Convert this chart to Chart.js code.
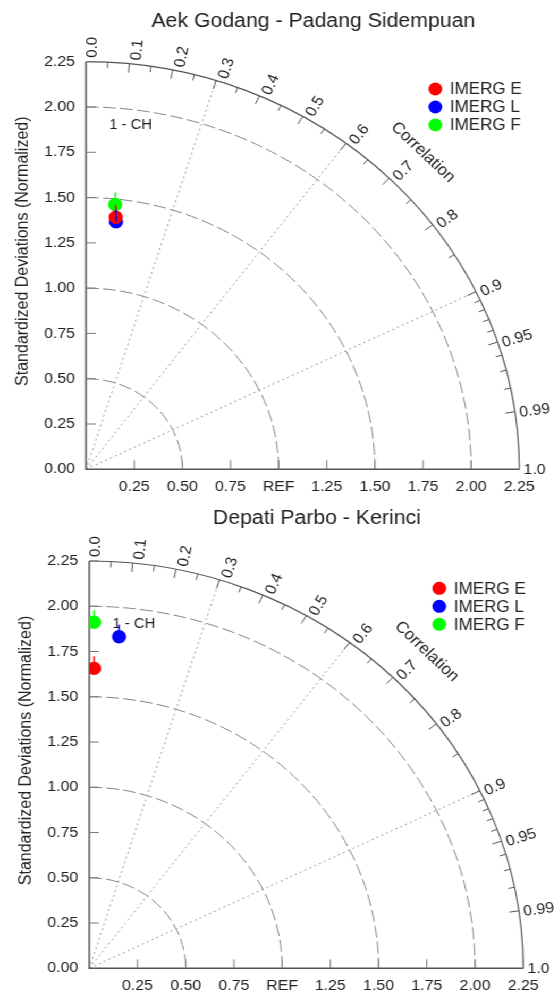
<!DOCTYPE html>
<html>
<head>
<meta charset="utf-8">
<script src="https://cdn.jsdelivr.net/npm/chart.js@4.4.0/dist/chart.umd.min.js"></script>
<style>
html, body { margin: 0; padding: 0; background: #fff; overflow: hidden; }
#wrap { width: 525px; transform: scaleX(1.062857); transform-origin: 0 0; }
canvas { display: block; }
</style>
</head>
<body>
<div id="wrap">
  <canvas id="aek" width="525" height="497"></canvas>
  <canvas id="depati" width="525" height="497"></canvas>
</div>
<script>
var FONT = '"Liberation Sans", Arial, Helvetica, sans-serif';

// models / colours
var models = ['IMERG E', 'IMERG L', 'IMERG F'];
var colors = ['#ff0000', '#0000ff', '#00ff00'];

// Aek Godang - Padang Sidempuan (normalized std dev, correlation)
var aekStd  = [1.40, 1.375, 1.47];
var aekCorr = [0.11, 0.113, 0.103];

// Depati Parbo - Kerinci
var depatiStd  = [1.657, 1.838, 1.912];
var depatiCorr = [0.015, 0.084, 0.013];

// axes
var stdTicks = [0, 0.25, 0.5, 0.75, 1.0, 1.25, 1.5, 1.75, 2.0, 2.25];
var stdArcs = [0.5, 1.0, 1.5, 2.0];
var corrLines = [0.3, 0.6, 0.9];
var corrLabels = ['0.0', '0.1', '0.2', '0.3', '0.4', '0.5', '0.6', '0.7', '0.8', '0.9', '0.95', '0.99', '1.0'];
var corrMinor = [0.05, 0.15, 0.25, 0.35, 0.45, 0.55, 0.65, 0.75, 0.85, 0.91, 0.92, 0.93, 0.94, 0.96, 0.97, 0.98];

function toXY(s, c) {
    return { x: s * c, y: s * Math.sqrt(1 - c * c) };
}

var taylorPlugin = {
    id: 'taylor',
    beforeDatasetsDraw: function(chart, args, opts) {
        var ctx = chart.ctx, xs = chart.scales.x, ys = chart.scales.y;
        var x0 = xs.getPixelForValue(0), y0 = ys.getPixelForValue(0);
        var maxR = stdTicks[stdTicks.length - 1];
        var rx = function(v) { return xs.getPixelForValue(v) - x0; };
        var ry = function(v) { return y0 - ys.getPixelForValue(v); };
        var pt = function(r, c) {
            var t = Math.acos(c);
            return [xs.getPixelForValue(r * Math.cos(t)), ys.getPixelForValue(r * Math.sin(t))];
        };
        ctx.save();

        // dashed std dev arcs
        ctx.strokeStyle = '#858585';
        ctx.lineWidth = 1;
        ctx.setLineDash([12, 4]);
        stdArcs.forEach(function(r) {
            ctx.beginPath();
            ctx.ellipse(x0, y0, rx(r), ry(r), 0, -Math.PI / 2, 0);
            ctx.stroke();
        });

        // dotted correlation rays
        ctx.strokeStyle = '#9a9a9a';
        ctx.setLineDash([2, 3]);
        corrLines.forEach(function(c) {
            var p = pt(maxR, c);
            ctx.beginPath();
            ctx.moveTo(x0, y0);
            ctx.lineTo(p[0], p[1]);
            ctx.stroke();
        });
        ctx.setLineDash([]);

        // axes and outer arc
        ctx.strokeStyle = '#555';
        ctx.lineWidth = 1.5;
        ctx.beginPath();
        ctx.moveTo(x0, ys.getPixelForValue(maxR));
        ctx.lineTo(x0, y0);
        ctx.lineTo(xs.getPixelForValue(maxR), y0);
        ctx.stroke();
        ctx.lineWidth = 1.2;
        ctx.beginPath();
        ctx.ellipse(x0, y0, rx(maxR), ry(maxR), 0, -Math.PI / 2, 0);
        ctx.stroke();

        // inward ticks on the std axes
        ctx.lineWidth = 1;
        ctx.strokeStyle = '#777';
        stdTicks.slice(1).forEach(function(v) {
            var px = xs.getPixelForValue(v), py = ys.getPixelForValue(v);
            ctx.beginPath();
            ctx.moveTo(px, y0); ctx.lineTo(px, y0 - 9);
            ctx.moveTo(x0, py); ctx.lineTo(x0 + 9, py);
            ctx.stroke();
        });

        // ticks on the correlation arc
        ctx.strokeStyle = '#555';
        var unit = rx(1);
        var tick = function(c, len) {
            if (c <= 0 || c >= 1) return;
            var a = pt(maxR, c), b = pt(maxR - len / unit, c);
            ctx.beginPath(); ctx.moveTo(a[0], a[1]); ctx.lineTo(b[0], b[1]); ctx.stroke();
        };
        corrLabels.forEach(function(l) { tick(parseFloat(l), 9); });
        corrMinor.forEach(function(c) { tick(c, 6); });

        // correlation labels
        ctx.fillStyle = '#222';
        ctx.font = '15px ' + FONT;
        ctx.textAlign = 'left';
        ctx.textBaseline = 'middle';
        corrLabels.forEach(function(l) {
            var c = parseFloat(l), t = Math.acos(c);
            var p = pt(maxR, c);
            ctx.save();
            ctx.translate(p[0], p[1]);
            ctx.rotate(-t);
            ctx.fillText(l, 4, 1 + 5 * Math.sin(t));
            ctx.restore();
        });

        // "Correlation" title along the arc
        var cp = pt(2.475, Math.cos(Math.PI / 4));
        ctx.save();
        ctx.translate(cp[0], cp[1]);
        ctx.rotate(Math.PI / 4);
        ctx.font = '16px ' + FONT;
        ctx.textAlign = 'center';
        ctx.fillText('Correlation', 0, 0);
        ctx.restore();

        // 1 - CH
        ctx.font = '14px ' + FONT;
        ctx.textAlign = 'left';
        ctx.fillText('1 - CH', xs.getPixelForValue(0.12), ys.getPixelForValue(1.90));

        ctx.restore();
    },
    afterDatasetsDraw: function(chart, args, opts) {
        var ctx = chart.ctx, area = chart.chartArea;
        ctx.save();

        // small vertical marks on the markers
        ctx.lineWidth = 1.5;
        chart.data.datasets.forEach(function(ds, i) {
            var el = chart.getDatasetMeta(i).data[0];
            ctx.strokeStyle = ds.borderColor;
            ctx.beginPath();
            ctx.moveTo(el.x, el.y);
            ctx.lineTo(el.x, el.y - 12);
            ctx.stroke();
        });

        // legend
        ctx.font = '16px ' + FONT;
        ctx.textAlign = 'left';
        ctx.textBaseline = 'middle';
        chart.data.datasets.forEach(function(ds, i) {
            var cx = area.right - 79, cy = area.top + 27.3 + i * 18;
            ctx.fillStyle = ds.backgroundColor;
            ctx.beginPath();
            ctx.arc(cx, cy, 6.5, 0, Math.PI * 2);
            ctx.fill();
            ctx.fillStyle = '#222';
            ctx.fillText(ds.label, cx + 13.7, cy + 1);
        });

        // title
        ctx.font = '20px ' + FONT;
        ctx.textAlign = 'center';
        ctx.textBaseline = 'alphabetic';
        ctx.fillText(opts.title, (area.left + area.right) / 2 + 10, 26.5);

        // y axis title
        ctx.save();
        ctx.translate(area.left - 59, area.top + 189.5);
        ctx.rotate(-Math.PI / 2);
        ctx.font = '16px ' + FONT;
        ctx.textBaseline = 'middle';
        ctx.fillText('Standardized Deviations (Normalized)', 0, 0);
        ctx.restore();

        ctx.restore();
    }
};

function makePanel(id, title, std, corr, g) {
    return new Chart(document.getElementById(id), {
        type: 'scatter',
        data: {
            datasets: models.map(function(m, i) {
                return {
                    label: m,
                    data: [toXY(std[i], corr[i])],
                    backgroundColor: colors[i],
                    borderColor: colors[i],
                    borderWidth: 0,
                    pointRadius: 6.7,
                    clip: 0
                };
            })
        },
        options: {
            responsive: false,
            animation: false,
            events: [],
            devicePixelRatio: 1,
            layout: { padding: { top: g.top, right: g.right, left: 0, bottom: 0 } },
            plugins: {
                legend: { display: false },
                tooltip: { enabled: false },
                taylor: { title: title }
            },
            scales: {
                x: {
                    type: 'linear', min: 0, max: 2.25,
                    afterBuildTicks: function(s) { s.ticks = stdTicks.map(function(v) { return { value: v }; }); },
                    afterFit: function(s) { s.height = g.bottom; },
                    grid: { display: false, drawTicks: false },
                    border: { display: false },
                    ticks: {
                        padding: 9, color: '#222', autoSkip: false, maxRotation: 0,
                        font: { size: 15, family: FONT },
                        callback: function(v) { return v === 0 ? '' : (v === 1 ? 'REF' : v.toFixed(2)); }
                    }
                },
                y: {
                    type: 'linear', min: 0, max: 2.25,
                    afterBuildTicks: function(s) { s.ticks = stdTicks.map(function(v) { return { value: v }; }); },
                    afterFit: function(s) { s.width = g.left; },
                    grid: { display: false, drawTicks: false },
                    border: { display: false },
                    ticks: {
                        padding: 10.4, color: '#222', autoSkip: false,
                        font: { size: 15, family: FONT },
                        callback: function(v) { return v.toFixed(2); }
                    }
                }
            }
        },
        plugins: [taylorPlugin]
    });
}

makePanel('aek', 'Aek Godang - Padang Sidempuan', aekStd, aekCorr,
    { top: 61.7, right: 36.4, left: 81, bottom: 27.7 });
makePanel('depati', 'Depati Parbo - Kerinci', depatiStd, depatiCorr,
    { top: 64, right: 32.7, left: 84, bottom: 25.7 });
</script>
</body>
</html>
